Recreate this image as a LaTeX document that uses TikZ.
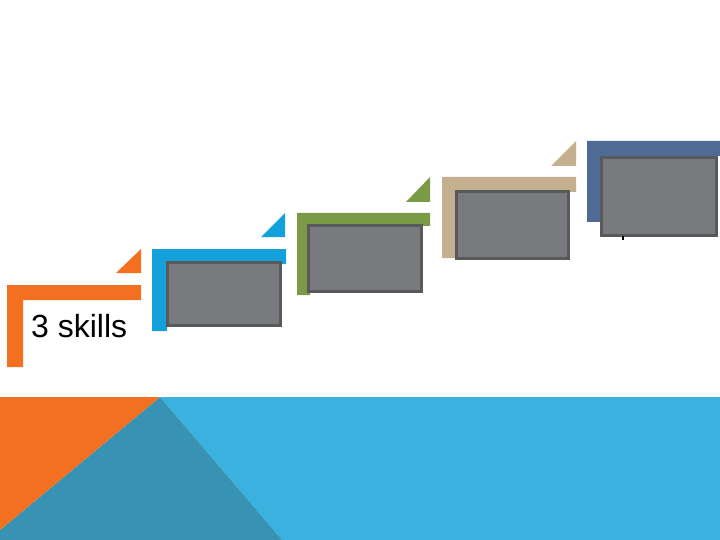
\documentclass[tikz,border=0pt]{standalone}
\usepackage{fontspec}
\setmainfont{Liberation Sans}
\usetikzlibrary{positioning}

\definecolor{stepone}{HTML}{F37021}
\definecolor{steptwo}{HTML}{14A0DB}
\definecolor{stepthree}{HTML}{7A9A45}
\definecolor{stepfour}{HTML}{C4AF8E}
\definecolor{stepfive}{HTML}{4D6B94}
\definecolor{screengray}{HTML}{797A7E}
\definecolor{screenedge}{HTML}{58595B}
\definecolor{bandlight}{HTML}{3AB1DE}
\definecolor{banddark}{HTML}{3892B3}

\begin{document}
\begin{tikzpicture}[
    x=1pt, y=-1pt,
    screen/.style={draw=screenedge, fill=screengray, line width=3pt, rectangle, inner sep=0pt, outer sep=0pt},
    skilltext/.style={font=\fontsize{32}{36}\selectfont, text=black, inner sep=0pt, anchor=base west}
]
\useasboundingbox (0,0) rectangle (720,540);

% Bottom band
\fill[bandlight] (160,397) -- (720,397) -- (720,540) -- (282,540) -- cycle;
\fill[banddark] (160,397) -- (282,540) -- (0,540) -- (0,530) -- cycle;
\fill[stepone] (0,397) -- (160,397) -- (0,530) -- cycle;

% Step 1
\fill[stepone] (7,285) -- (141,285) -- (141,300) -- (23,300) -- (23,367) -- (7,367) -- cycle;
\fill[stepone] (141,249) -- (141,273) -- (116,273) -- cycle;
\node[skilltext] (skills) at (31,337) {3 skills};

% Step 2
\fill[steptwo] (152,249) -- (286,249) -- (286,264) -- (167,264) -- (167,331) -- (152,331) -- cycle;
\fill[steptwo] (285,213) -- (285,237) -- (261,237) -- cycle;
\node[screen, minimum width=113pt, minimum height=63pt] (boxtwo) at (224,294) {};

% Step 3
\fill[stepthree] (297,213) -- (430,213) -- (430,226) -- (310,226) -- (310,295) -- (297,295) -- cycle;
\fill[stepthree] (430,177) -- (430,202) -- (406,202) -- cycle;
\node[screen, minimum width=113pt, minimum height=66pt] (boxthree) at (365,258.5) {};

% Step 4
\fill[stepfour] (442,177) -- (576,177) -- (576,192) -- (455,192) -- (455,258) -- (442,258) -- cycle;
\fill[stepfour] (576,141) -- (576,166) -- (551,166) -- cycle;
\node[screen, minimum width=112pt, minimum height=67pt] (boxfour) at (512.5,225) {};

% Step 5
\fill[stepfive] (587,141) -- (720,141) -- (720,156) -- (600,156) -- (600,222) -- (587,222) -- cycle;
\node[screen, minimum width=115pt, minimum height=78pt] (boxfive) at (659,196.5) {};
\draw[black, line width=1.5pt] (boxfive.south -| 623,0) -- ++(0,4.5);

\end{tikzpicture}
\end{document}
